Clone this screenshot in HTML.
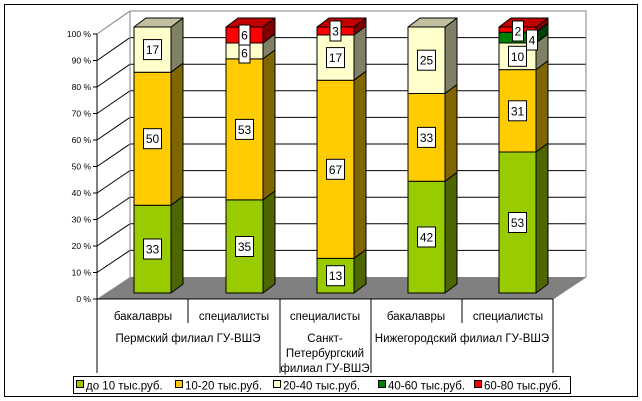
<!DOCTYPE html>
<html><head><meta charset="utf-8"><style>
html,body{margin:0;padding:0;background:#fff;}
svg{display:block;font-family:"Liberation Sans",sans-serif;}
</style></head><body>
<svg width="642" height="401" viewBox="0 0 642 401" xmlns="http://www.w3.org/2000/svg">
<rect x="4.5" y="4.5" width="633" height="392" fill="#fff" stroke="#000" stroke-width="1"/>
<polygon points="97,299 553,299 586,277 130,277" fill="#808080"/>
<g stroke="#000" stroke-width="1">
<line x1="130" y1="250.4" x2="586" y2="250.4"/><line x1="97" y1="272.5" x2="130" y2="250.4"/>
<line x1="130" y1="223.8" x2="586" y2="223.8"/><line x1="97" y1="246" x2="130" y2="223.8"/>
<line x1="130" y1="197.2" x2="586" y2="197.2"/><line x1="97" y1="219.5" x2="130" y2="197.2"/>
<line x1="130" y1="170.6" x2="586" y2="170.6"/><line x1="97" y1="193" x2="130" y2="170.6"/>
<line x1="130" y1="144" x2="586" y2="144"/><line x1="97" y1="166.5" x2="130" y2="144"/>
<line x1="130" y1="117.4" x2="586" y2="117.4"/><line x1="97" y1="140" x2="130" y2="117.4"/>
<line x1="130" y1="90.8" x2="586" y2="90.8"/><line x1="97" y1="113.5" x2="130" y2="90.8"/>
<line x1="130" y1="64.2" x2="586" y2="64.2"/><line x1="97" y1="87" x2="130" y2="64.2"/>
<line x1="130" y1="37.6" x2="586" y2="37.6"/><line x1="97" y1="60.5" x2="130" y2="37.6"/>
</g>
<g stroke="#808080" fill="none"><polyline points="97,34 130,11 586,11 586,277 553,299"/><line x1="130" y1="11" x2="130" y2="277"/></g>
<g stroke="#000"><line x1="97" y1="34" x2="97" y2="299"/>
<line x1="93" y1="34" x2="97" y2="34"/><line x1="93" y1="60.5" x2="97" y2="60.5"/><line x1="93" y1="87" x2="97" y2="87"/><line x1="93" y1="113.5" x2="97" y2="113.5"/><line x1="93" y1="140" x2="97" y2="140"/><line x1="93" y1="166.5" x2="97" y2="166.5"/><line x1="93" y1="193" x2="97" y2="193"/><line x1="93" y1="219.5" x2="97" y2="219.5"/><line x1="93" y1="246" x2="97" y2="246"/><line x1="93" y1="272.5" x2="97" y2="272.5"/><line x1="93" y1="299" x2="97" y2="299"/>
<line x1="97" y1="299" x2="553" y2="299"/>
<line x1="97" y1="299" x2="97" y2="373"/><line x1="188" y1="299" x2="188" y2="323"/><line x1="280" y1="299" x2="280" y2="373"/><line x1="371" y1="299" x2="371" y2="373"/><line x1="462" y1="299" x2="462" y2="323"/><line x1="553" y1="299" x2="553" y2="373"/>
</g>
<g font-size="8.5" text-anchor="end" fill="#000">
<text x="91" y="37">100 %</text><text x="91" y="63.5">90 %</text><text x="91" y="90">80 %</text><text x="91" y="116.5">70 %</text><text x="91" y="143">60 %</text><text x="91" y="169.5">50 %</text><text x="91" y="196">40 %</text><text x="91" y="222.5">30 %</text><text x="91" y="249">20 %</text><text x="91" y="275.5">10 %</text><text x="91" y="302">0 %</text>
</g>
<g stroke="#000" stroke-width="1" stroke-linejoin="round">
<rect x="134" y="205.2" width="37" height="87.8" fill="#99cc00"/><polygon points="171,293 183,284 183,196.2 171,205.2" fill="#4d6600"/>
<rect x="134" y="72.2" width="37" height="133" fill="#ffcc00"/><polygon points="171,205.2 183,196.2 183,63.2 171,72.2" fill="#806600"/>
<rect x="134" y="27" width="37" height="45.2" fill="#ffffcc"/><polygon points="171,72.2 183,63.2 183,18 171,27" fill="#808066"/>
<polygon points="134,27 146,18 183,18 171,27" fill="#c0c0a0"/>
<rect x="226" y="199.9" width="37" height="93.1" fill="#99cc00"/><polygon points="263,293 275,284 275,190.9 263,199.9" fill="#4d6600"/>
<rect x="226" y="58.9" width="37" height="141" fill="#ffcc00"/><polygon points="263,199.9 275,190.9 275,49.9 263,58.9" fill="#806600"/>
<rect x="226" y="43" width="37" height="15.9" fill="#ffffcc"/><polygon points="263,58.9 275,49.9 275,34 263,43" fill="#808066"/>
<rect x="226" y="27" width="37" height="16" fill="#ff0000"/><polygon points="263,43 275,34 275,18 263,27" fill="#800000"/>
<polygon points="226,27 238,18 275,18 263,27" fill="#c00000"/>
<rect x="317" y="258.4" width="37" height="34.6" fill="#99cc00"/><polygon points="354,293 366,284 366,249.4 354,258.4" fill="#4d6600"/>
<rect x="317" y="80.2" width="37" height="178.2" fill="#ffcc00"/><polygon points="354,258.4 366,249.4 366,71.2 354,80.2" fill="#806600"/>
<rect x="317" y="35" width="37" height="45.2" fill="#ffffcc"/><polygon points="354,80.2 366,71.2 366,26 354,35" fill="#808066"/>
<rect x="317" y="27" width="37" height="8" fill="#ff0000"/><polygon points="354,35 366,26 366,18 354,27" fill="#800000"/>
<polygon points="317,27 329,18 366,18 354,27" fill="#c00000"/>
<rect x="408" y="181.3" width="37" height="111.7" fill="#99cc00"/><polygon points="445,293 457,284 457,172.3 445,181.3" fill="#4d6600"/>
<rect x="408" y="93.5" width="37" height="87.8" fill="#ffcc00"/><polygon points="445,181.3 457,172.3 457,84.5 445,93.5" fill="#806600"/>
<rect x="408" y="27" width="37" height="66.5" fill="#ffffcc"/><polygon points="445,93.5 457,84.5 457,18 445,27" fill="#808066"/>
<polygon points="408,27 420,18 457,18 445,27" fill="#c0c0a0"/>
<rect x="499" y="152" width="37" height="141" fill="#99cc00"/><polygon points="536,293 548,284 548,143 536,152" fill="#4d6600"/>
<rect x="499" y="69.6" width="37" height="82.4" fill="#ffcc00"/><polygon points="536,152 548,143 548,60.6 536,69.6" fill="#806600"/>
<rect x="499" y="43" width="37" height="26.6" fill="#ffffcc"/><polygon points="536,69.6 548,60.6 548,34 536,43" fill="#808066"/>
<rect x="499" y="32.3" width="37" height="10.7" fill="#008000"/><polygon points="536,43 548,34 548,23.3 536,32.3" fill="#004000"/>
<rect x="499" y="27" width="37" height="5.3" fill="#ff0000"/><polygon points="536,32.3 548,23.3 548,18 536,27" fill="#800000"/>
<polygon points="499,27 511,18 548,18 536,27" fill="#c00000"/>
</g>
<g stroke="#000" fill="#fff">
<rect x="143.5" y="239" width="18" height="20"/><rect x="143.5" y="128.7" width="18" height="20"/><rect x="143.5" y="39.6" width="18" height="20"/>
<rect x="235.5" y="236.5" width="18" height="20"/><rect x="235.5" y="119.4" width="18" height="20"/><rect x="239" y="43" width="11" height="20"/><rect x="239" y="25" width="11" height="20"/>
<rect x="326.5" y="265.7" width="18" height="20"/><rect x="326.5" y="159.3" width="18" height="20"/><rect x="326.5" y="47.6" width="18" height="20"/><rect x="330" y="21" width="11" height="20"/>
<rect x="417.5" y="227" width="18" height="20"/><rect x="417.5" y="127.4" width="18" height="20"/><rect x="417.5" y="50.2" width="18" height="20"/>
<rect x="508.5" y="212.5" width="18" height="20"/><rect x="508.5" y="100.8" width="18" height="20"/><rect x="508.5" y="46.3" width="18" height="20"/><rect x="526.5" y="30" width="11" height="20"/><rect x="512.5" y="21" width="11" height="20"/>
</g>
<g font-size="12" text-anchor="middle" fill="#000">
<text x="152.5" y="253.5">33</text><text x="152.5" y="143.2">50</text><text x="152.5" y="54.1">17</text>
<text x="244.5" y="251">35</text><text x="244.5" y="133.9">53</text><text x="244.5" y="57.5">6</text><text x="244.5" y="39.5">6</text>
<text x="335.5" y="280.2">13</text><text x="335.5" y="173.8">67</text><text x="335.5" y="62.1">17</text><text x="335.5" y="35.5">3</text>
<text x="426.5" y="241.5">42</text><text x="426.5" y="141.9">33</text><text x="426.5" y="64.7">25</text>
<text x="517.5" y="227">53</text><text x="517.5" y="115.3">31</text><text x="517.5" y="60.8">10</text><text x="532" y="44.5">4</text><text x="518" y="35.5">2</text>
</g>
<g font-size="11.5" text-anchor="middle" fill="#000">
<text x="143" y="320">бакалавры</text><text x="234" y="320">специалисты</text><text x="325" y="320">специалисты</text><text x="416" y="320">бакалавры</text><text x="508" y="320">специалисты</text>
<text x="188" y="342">Пермский филиал ГУ-ВШЭ</text>
<text x="325" y="342">Санкт-</text><text x="325" y="357">Петербургский</text><text x="325" y="372">филиал ГУ-ВШЭ</text>
<text x="462" y="342">Нижегородский филиал ГУ-ВШЭ</text>
</g>
<rect x="73.5" y="376.5" width="497" height="17" fill="#fff" stroke="#000"/>
<g stroke="#000" stroke-width="1">
<rect x="76.5" y="380.5" width="7" height="7" fill="#99cc00"/>
<rect x="175.5" y="380.5" width="7" height="7" fill="#ffcc00"/>
<rect x="273.5" y="380.5" width="7" height="7" fill="#ffffcc"/>
<rect x="378.5" y="380.5" width="7" height="7" fill="#008000"/>
<rect x="474.5" y="380.5" width="7" height="7" fill="#ff0000"/>
</g>
<g font-size="11.5" fill="#000">
<text x="86" y="389.5">до 10 тыс.руб.</text>
<text x="185" y="389.5">10-20 тыс.руб.</text>
<text x="283" y="389.5">20-40 тыс.руб.</text>
<text x="388" y="389.5">40-60 тыс.руб.</text>
<text x="484" y="389.5">60-80 тыс.руб.</text>
</g>
</svg>
</body></html>
